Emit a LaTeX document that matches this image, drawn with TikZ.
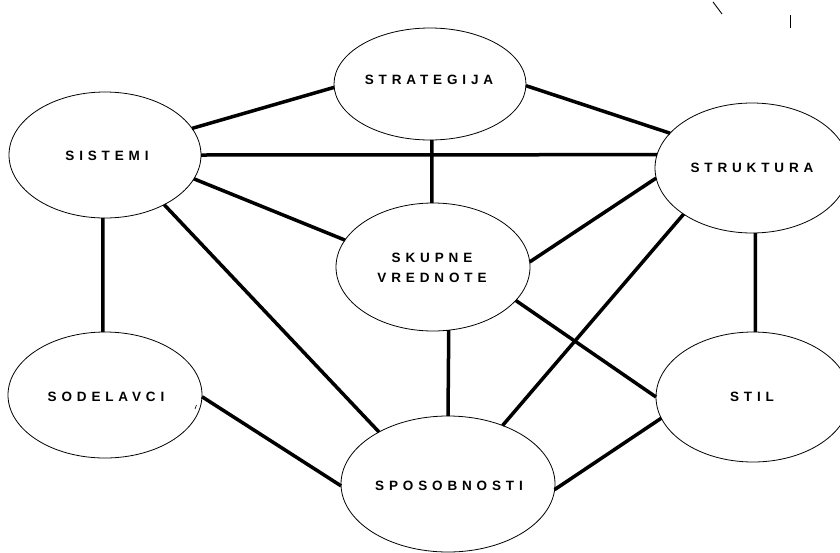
\documentclass[tikz,border=0pt]{standalone}
\usepackage{fontspec}
\setmainfont{Liberation Sans}
\usetikzlibrary{shapes.geometric}

% widely tracked bold capitals used for every label
\newcommand{\tracked}[1]{{\addfontfeature{LetterSpace=36}#1}}

\tikzset{
  factor/.style={draw, ellipse, line width=0.8pt, inner sep=0pt, outer sep=0pt},
  caption/.style={font=\fontsize{13.5}{20}\selectfont\bfseries, inner sep=0pt, align=center},
  link/.style={line width=3.5pt, line cap=butt},
  stray/.style={line width=0.9pt}
}

\begin{document}
\begin{tikzpicture}[x=1pt, y=-1pt]
\useasboundingbox (0,0) rectangle (840,552);

% the seven factors
\node[factor, minimum width=192pt, minimum height=112pt] (strat) at (430,84) {};
\node[factor, minimum width=192pt, minimum height=126pt] (sist)  at (105,155) {};
\node[factor, minimum width=194pt, minimum height=130pt] (struk) at (752,168) {};
\node[factor, minimum width=194pt, minimum height=128pt] (skup)  at (433,267) {};
\node[factor, minimum width=194pt, minimum height=126pt] (sodel) at (105,395) {};
\node[factor, minimum width=214pt, minimum height=136pt] (spos)  at (448,484) {};
\node[factor, minimum width=194pt, minimum height=130pt] (stil)  at (753,397) {};

% their names
\node[caption] (t-strat) at (429,80)  {\tracked{STRATEGIJA}};
\node[caption] (t-sist)  at (107,156) {\tracked{SISTEMI}};
\node[caption] (t-struk) at (752,168) {\tracked{STRUKTURA}};
\node[caption] (t-skup)  at (432,268) {\tracked{SKUPNE}\\\tracked{VREDNOTE}};
\node[caption] (t-sodel) at (106,397) {\tracked{SODELAVCI}};
\node[caption] (t-spos)  at (449,486) {\tracked{SPOSOBNOSTI}};
\node[caption] (t-stil)  at (752,397) {\tracked{STIL}};

% links between the factors
\draw[link] (strat.182)   -- (sist.17);
\draw[link] (strat.-1)    -- (struk.157);
\draw[link] (strat.-88)   -- (skup.91);
\draw[link] (sist.-0.6)   -- (struk.172.9);
\draw[link] (sist.-15.3)  -- (skup.163.5);
\draw[link] (sist.-92)    -- (sodel.92);
\draw[link] (sist.-40.8)  -- (spos.143.4);
\draw[link] (struk.186)   -- (skup.3);
\draw[link] (struk.214)   -- (spos.47.5);
\draw[link] (struk.-87.4) -- (stil.88.2);
\draw[link] (skup.-76.8)  -- (spos.90);
\draw[link] (skup.-22.7)  -- (stil.180);
\draw[link] (stil.193)    -- (spos.-3.7);
\draw[link] (sodel.-1.2)  -- (spos.181.6);

% small stray strokes
\coordinate (m1a) at (713,2);
\coordinate (m1b) at (722,14);
\coordinate (m2a) at (790,15);
\coordinate (m2b) at (790,28);
\coordinate (m3a) at (195,409);
\coordinate (m3b) at (196.5,405);
\draw[stray] (m1a) -- (m1b);
\draw[stray] (m2a) -- (m2b);
\draw[line width=0.6pt] (m3a) -- (m3b);
\end{tikzpicture}
\end{document}
